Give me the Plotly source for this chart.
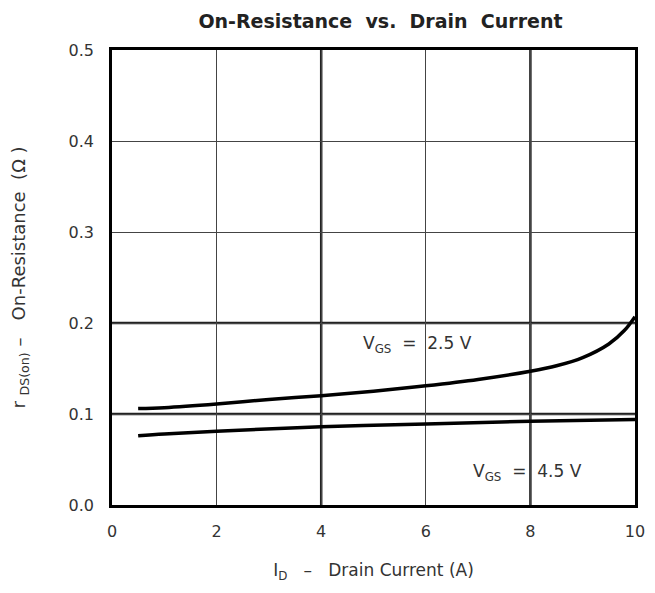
import plotly.graph_objects as go

# Curvas (ID em A, rDS(on) em ohm)
id_25 = [0.5, 1, 2, 3, 4, 5, 6, 7, 8, 8.5, 9, 9.5, 9.8, 10]
r_25 = [0.106, 0.107, 0.111, 0.116, 0.120, 0.125, 0.131, 0.138, 0.147, 0.153,
        0.162, 0.177, 0.192, 0.207]

id_45 = [0.5, 1, 2, 4, 6, 8, 10]
r_45 = [0.076, 0.078, 0.081, 0.086, 0.089, 0.092, 0.094]

x_ticks = [0, 2, 4, 6, 8, 10]
y_ticks = [0.0, 0.1, 0.2, 0.3, 0.4, 0.5]
x_heavy = [4, 8]
y_heavy = [0.1, 0.2]

NB = '\u00a0'
FONTE = 'DejaVu Sans, Verdana, sans-serif'

fig = go.Figure()

fig.add_trace(go.Scatter(x=id_25, y=r_25, mode='lines', line=dict(color='black', width=3.5, shape='spline')))
fig.add_trace(go.Scatter(x=id_45, y=r_45, mode='lines', line=dict(color='black', width=3.5, shape='spline')))

# linhas de grade mais grossas
for xv in x_heavy:
    fig.add_shape(type='line', xref='x', yref='paper', x0=xv, x1=xv, y0=0, y1=1,
                  line=dict(color='#222', width=2.5), layer='below')
for yv in y_heavy:
    fig.add_shape(type='line', xref='paper', yref='y', x0=0, x1=1, y0=yv, y1=yv,
                  line=dict(color='#222', width=2.5), layer='below')

fig.add_annotation(x=5.85, y=0.176, text=f'V<sub>GS</sub>{NB}{NB}={NB}{NB}2.5{NB}V', showarrow=False,
                   font=dict(size=17, color='#333'))
fig.add_annotation(x=7.95, y=0.036, text=f'V<sub>GS</sub>{NB}{NB}={NB}{NB}4.5{NB}V', showarrow=False,
                   font=dict(size=17, color='#333'))

# o body da página desloca a figura uns 8px
fig.update_layout(
    width=640, height=575,
    margin=dict(l=104, r=13, t=42, b=78),
    template='plotly_white',
    paper_bgcolor='white', plot_bgcolor='white',
    showlegend=False,
    font=dict(family=FONTE, color='#333', size=14),
    title=dict(text=f'<b>On-Resistance{NB} vs.{NB} Drain{NB} Current</b>', x=0.582, xanchor='center',
               y=0.976, yanchor='middle', font=dict(size=19, color='#222')),
)

fig.update_xaxes(
    range=[0, 10], tickvals=x_ticks, showgrid=True, gridcolor='#444', gridwidth=1.3,
    showline=True, linecolor='black', linewidth=2.5, mirror=True, zeroline=False,
    automargin=False, ticklabeloverflow='allow',
    ticks='', ticklabelstandoff=10, tickfont=dict(size=16, color='#333'),
    title=dict(text=f'I<sub>D</sub>{NB}{NB}{NB}–{NB}{NB}{NB}Drain{NB}Current{NB}(A)', standoff=37,
               font=dict(size=17, color='#333')),
)
fig.update_yaxes(
    range=[0, 0.5], tickvals=y_ticks, tickformat='.1f', showgrid=True, gridcolor='#444',
    gridwidth=1.3, showline=True, linecolor='black', linewidth=2.5, mirror=True,
    zeroline=False, automargin=False, ticklabeloverflow='allow', ticks='', ticklabelstandoff=12,
    tickfont=dict(size=16, color='#333'),
    title=dict(text=f'r{NB}<sub>DS(on)</sub>{NB}–{NB}{NB}{NB}On-Resistance{NB}{NB}(Ω{NB})', standoff=39,
               font=dict(size=18, color='#333')),
)

fig.write_html("out.html")
